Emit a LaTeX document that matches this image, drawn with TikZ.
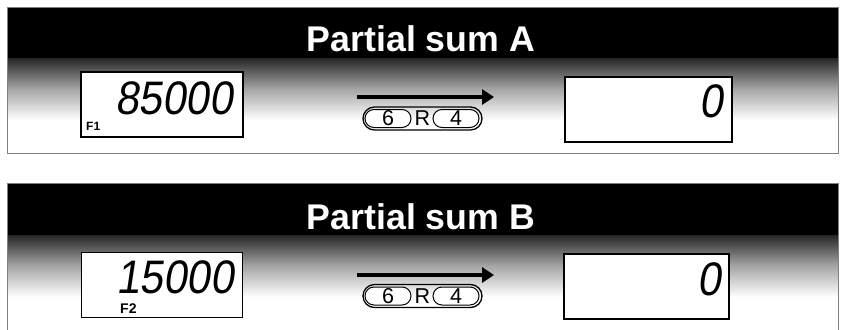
\documentclass[tikz,border=0pt]{standalone}
\usepackage{fontspec}
\setmainfont{Liberation Sans}
\newfontfamily\lcdfont[FakeSlant=0.15,FakeStretch=0.9]{Liberation Sans}
\usetikzlibrary{arrows.meta}
\tikzset{
  panelframe/.style={draw=black!50,line width=0.8pt},
  band/.style={fill=black},
  fadeband/.style={top color=black!85,bottom color=white,middle color=black!35},
  titletext/.style={text=white,font=\bfseries\fontsize{35.7}{40}\selectfont,anchor=base,inner sep=0pt},
  lcd/.style={draw=black,line width=1.2pt,fill=white,minimum height=65pt,inner sep=0pt},
  digits/.style={font=\lcdfont\fontsize{47}{48}\selectfont,anchor=base east,inner sep=0pt,text height=34pt,text depth=0pt},
  flabel/.style={font=\bfseries,anchor=base west,inner sep=0pt},
  keyframe/.style={draw=black,line width=1.3pt,rounded corners=11.5pt,minimum width=119pt,minimum height=23pt,inner sep=0pt},
  keycap/.style={draw=black,line width=1pt,rounded corners=9pt,fill=white,minimum width=46pt,minimum height=18pt,inner sep=0pt,font=\fontsize{21.5}{22}\selectfont},
  keyletter/.style={inner sep=0pt,font=\fontsize{21.5}{22}\selectfont},
  bigarrow/.style={line width=4.5pt,-{Triangle[length=12pt,width=15pt]}}
}
\begin{document}
\begin{tikzpicture}[x=1pt,y=-1pt]
\useasboundingbox (0,0) rectangle (845,329);
\fill[white] (0,0) rectangle (845,329);

% ---------- Panel A ----------
\fill[fadeband] (7,58) rectangle (838,120);
\fill[band] (7,7) rectangle (838,58);
\draw[panelframe] (7,7) rectangle (838,153);
\node[titletext] (titleA) at (421,52) {Partial sum A};

\node[lcd,minimum width=162pt] (dispA1) at (162,104.5) {};
\node[digits] (numA1) at (233,114) {85000};
\node[flabel,font=\bfseries\fontsize{12}{12}\selectfont] (fA) at (86,130) {F1};

\node[lcd,minimum width=167pt] (dispA2) at (648.5,109.5) {};
\node[digits] (numA2) at (723,117) {0};

\coordinate (arrAs) at (357,97);
\coordinate (arrAe) at (494,97);
\draw[bigarrow] (arrAs) -- (arrAe);

\node[keyframe] (capA) at (422.5,118.5) {};
\node[keycap] (k6A) at (388,118.5) {6};
\node[keyletter] (rA) at (422.5,118.5) {R};
\node[keycap] (k4A) at (456,118.5) {4};

% ---------- Panel B ----------
\fill[fadeband] (7,235) rectangle (838,297);
\fill[band] (7,183) rectangle (838,235);
\draw[panelframe] (7,335) -- (7,183) -- (838,183) -- (838,335);
\node[titletext] (titleB) at (421,229) {Partial sum B};

\node[lcd,minimum width=161pt] (dispB1) at (162,285) {};
\node[digits] (numB1) at (234,293) {15000};
\node[flabel,font=\bfseries\fontsize{14}{14}\selectfont] (fB) at (120,313) {F2};

\node[lcd,minimum width=165pt] (dispB2) at (646.5,286.5) {};
\node[digits] (numB2) at (721,295) {0};

\coordinate (arrBs) at (357,275);
\coordinate (arrBe) at (494,275);
\draw[bigarrow] (arrBs) -- (arrBe);

\node[keyframe] (capB) at (422.5,296) {};
\node[keycap] (k6B) at (388,296) {6};
\node[keyletter] (rB) at (422.5,296) {R};
\node[keycap] (k4B) at (456,296) {4};
\end{tikzpicture}
\end{document}
